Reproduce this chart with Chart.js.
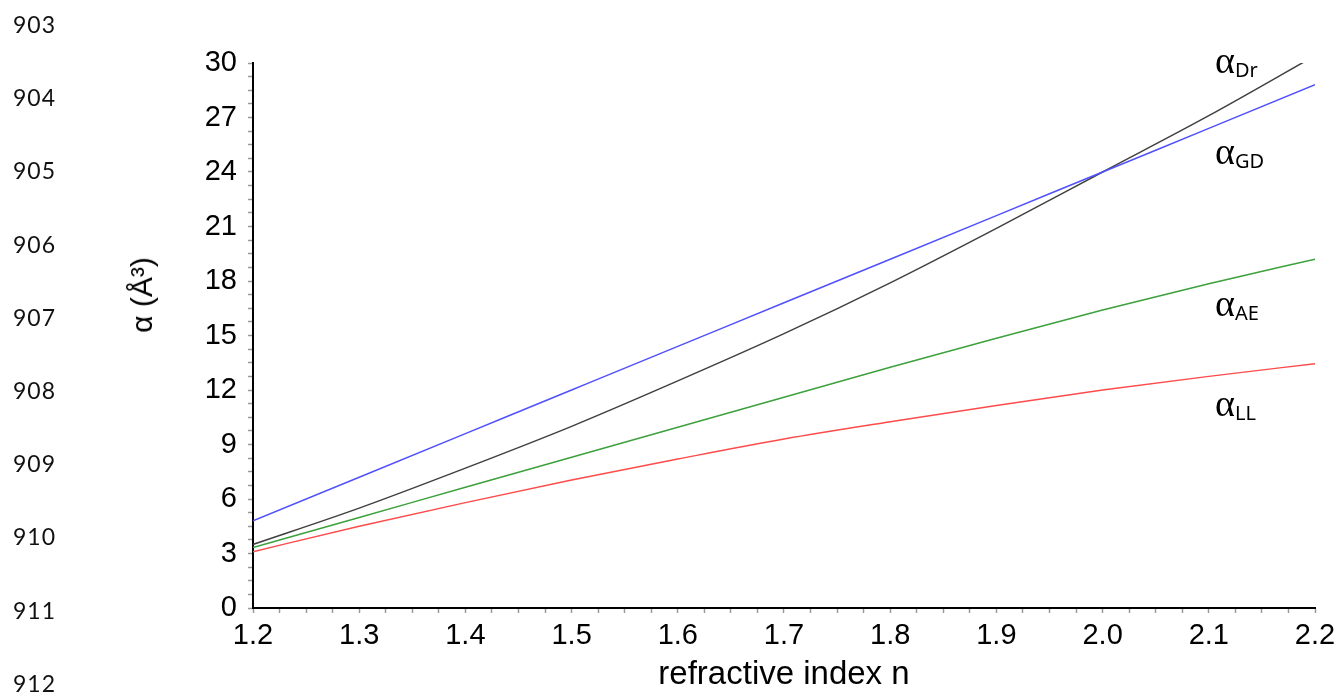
<!DOCTYPE html>
<html>
<head>
<meta charset="utf-8">
<script src="https://cdn.jsdelivr.net/npm/chart.js@4.4.0/dist/chart.umd.min.js"></script>
<style>
  body { margin: 0; background: #fff; }
  #wrap { position: relative; width: 1343px; height: 692px; overflow: hidden; }
  #chart { position: absolute; left: 0; top: 0; }
  .ln { position: absolute; left: 13px; font: 23px Lato, sans-serif; line-height: 23px; letter-spacing: 1px; color: #111; }
  .lab { position: absolute; left: 1215px; font: 38px 'Liberation Serif', serif; line-height: 35px; color: #000; white-space: nowrap; }
  .lab span { font: 20px 'Noto Sans', sans-serif; vertical-align: -4px; }
  #ytitle { position: absolute; left: 142px; top: 295px; transform: translate(-50%, -50%) rotate(-90deg);
            font: 30px 'Liberation Sans', Arial, sans-serif; white-space: nowrap; color: #000; }
</style>
</head>
<body>
<div id="wrap">
  <canvas id="chart" width="1343" height="692"></canvas>
  <div id="ytitle">α (Å³)</div>
  <div class="lab" style="top:43px">α<span>Dr</span></div>
  <div class="lab" style="top:134px">α<span>GD</span></div>
  <div class="lab" style="top:286px">α<span>AE</span></div>
  <div class="lab" style="top:386px">α<span>LL</span></div>
</div>
<script>
// refractive index n (x) and polarizabilities in Å³
const nValues = [1.2, 1.3, 1.4, 1.5, 1.6, 1.7, 1.8, 1.9, 2.0, 2.1, 2.2];
const alphaDr = [3.5, 5.5, 7.7, 10.0, 12.5, 15.1, 17.9, 20.9, 24.0, 27.1, 30.4];
const alphaGD = [4.8, 7.2, 9.6, 12.0, 14.4, 16.8, 19.2, 21.6, 24.0, 26.4, 28.8];
const alphaAE = [3.33, 4.98, 6.65, 8.3, 9.95, 11.6, 13.25, 14.85, 16.4, 17.85, 19.2];
const alphaLL = [3.1, 4.5, 5.8, 7.05, 8.2, 9.3, 10.25, 11.15, 12.0, 12.75, 13.45];

const xTicks = [1.2, 1.3, 1.4, 1.5, 1.6, 1.7, 1.8, 1.9, 2.0, 2.1, 2.2];
const xLabels = ['1.2', '1.3', '1.4', '1.5', '1.6', '1.7', '1.8', '1.9', '2.0', '2.1', '2.2'];
const yTicks = [0, 3, 6, 9, 12, 15, 18, 21, 24, 27, 30];
const yLabels = ['0', '3', '6', '9', '12', '15', '18', '21', '24', '27', '30'];

const lineNumbers = ['903', '904', '905', '906', '907', '908', '909', '910', '911', '912'];
const lineCenters = [24.5, 98, 171, 245, 318, 391, 464, 537, 611, 684];

const wrap = document.getElementById('wrap');
lineNumbers.forEach((t, i) => {
    const d = document.createElement('div');
    d.className = 'ln';
    d.textContent = t;
    d.style.top = (lineCenters[i] - 12) + 'px';
    wrap.appendChild(d);
});

// major ticks with 3 unlabeled minor ticks between
function withMinor(major, labels, sub) {
    const out = [];
    for (let i = 0; i < major.length - 1; i++) {
        const step = (major[i + 1] - major[i]) / sub;
        for (let k = 0; k < sub; k++) {
            out.push({ value: major[i] + k * step, lbl: k === 0 ? labels[i] : '' });
        }
    }
    out.push({ value: major[major.length - 1], lbl: labels[labels.length - 1] });
    return out;
}

const pts = ys => nValues.map((n, i) => ({ x: n, y: ys[i] }));
const axisFont = { family: "'Liberation Sans', Arial, sans-serif", size: 29 };

const series = [
    { data: pts(alphaGD), borderColor: 'rgb(80,80,255)' },
    { data: pts(alphaDr), borderColor: 'rgb(64,64,64)' },
    { data: pts(alphaAE), borderColor: 'rgb(60,160,60)' },
    { data: pts(alphaLL), borderColor: 'rgb(255,75,75)' }
].map(s => ({ ...s, borderWidth: 1.5, pointRadius: 0, fill: false, cubicInterpolationMode: 'monotone' }));

new Chart(document.getElementById('chart').getContext('2d'), {
    type: 'line',
    data: { datasets: series },
    options: {
        responsive: false,
        animation: false,
        devicePixelRatio: 1,
        layout: { padding: { top: 63, right: 28, bottom: 0, left: 0 } },
        plugins: { legend: { display: false }, tooltip: { enabled: false } },
        scales: {
            x: {
                type: 'linear', min: 1.2, max: 2.2,
                afterBuildTicks: s => { s.ticks = withMinor(xTicks, xLabels, 4); },
                afterFit: s => { s.height = 84; },
                ticks: { autoSkip: false, maxRotation: 0, padding: 6, color: '#000', font: axisFont,
                         callback: (v, i, t) => t[i].lbl },
                grid: { drawOnChartArea: false, tickLength: 5, tickColor: '#999', tickWidth: 1.5 },
                border: { color: '#000', width: 2 },
                title: { display: true, text: 'refractive index n', color: '#000',
                         font: { family: "'Liberation Sans', Arial, sans-serif", size: 33 },
                         padding: { top: 0, bottom: -3 } }
            },
            y: {
                min: 0, max: 30,
                afterBuildTicks: s => { s.ticks = withMinor(yTicks, yLabels, 4); },
                afterFit: s => { s.width = 253; },
                ticks: { autoSkip: false, padding: 11, color: '#000', font: axisFont,
                         callback: (v, i, t) => t[i].lbl },
                grid: { drawOnChartArea: false, tickLength: 5, tickColor: '#999', tickWidth: 1.5 },
                border: { color: '#000', width: 2 }
            }
        }
    }
});
</script>
</body>
</html>
